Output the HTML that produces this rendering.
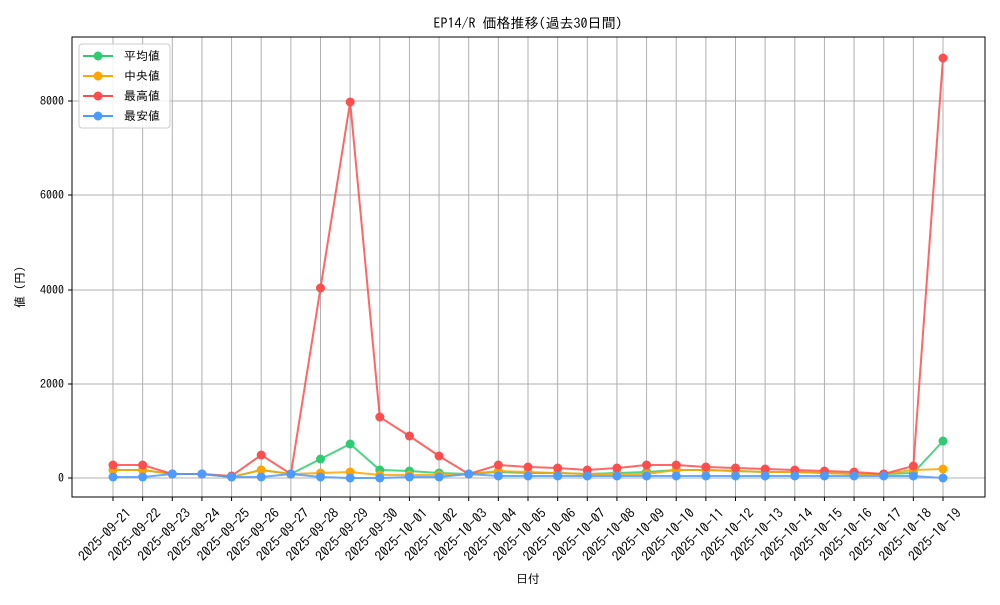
<!DOCTYPE html>
<html><head><meta charset="utf-8"><style>
body{margin:0;background:#fff}
svg text{font-family:"IPAGothic","Noto Sans CJK JP",sans-serif;font-size:12px;fill:#000}
</style></head><body>
<svg id="s" width="1000" height="600" xmlns="http://www.w3.org/2000/svg">
<rect width="1000" height="600" fill="#fff"/>
<g id="grid"></g>
<g id="series"></g>
<rect x="72" y="37" width="913" height="460" fill="none" stroke="#000" stroke-width="1"/>
<g id="ticks"></g>
<text x="528" y="28" text-anchor="middle" style="font-size:14px">EP14/R 価格推移(過去30日間)</text>
<text x="528" y="583" text-anchor="middle">日付</text>
<text transform="translate(24,287) rotate(-90)" text-anchor="middle">値 (円)</text>
<g>
<rect x="79" y="44" width="91" height="84" rx="3" fill="#fff" fill-opacity="0.85" stroke="#ccc"/>
<line x1="83" y1="56" x2="113" y2="56" stroke="#2ecc71" stroke-width="2"/><circle cx="98" cy="56" r="4.5" fill="#2ecc71"/><text x="124" y="60">平均値</text>
<line x1="83" y1="76" x2="113" y2="76" stroke="#ffa500" stroke-width="2"/><circle cx="98" cy="76" r="4.5" fill="#ffa500"/><text x="124" y="80">中央値</text>
<line x1="83" y1="96" x2="113" y2="96" stroke="#ff4c4c" stroke-width="2"/><circle cx="98" cy="96" r="4.5" fill="#ff4c4c"/><text x="124" y="100">最高値</text>
<line x1="83" y1="116" x2="113" y2="116" stroke="#4c9bff" stroke-width="2"/><circle cx="98" cy="116" r="4.5" fill="#4c9bff"/><text x="124" y="120">最安値</text>
</g>
</svg>
<script>
const NS="http://www.w3.org/2000/svg";
function el(p,t,a,txt){const e=document.createElementNS(NS,t);for(const k in a)e.setAttribute(k,a[k]);if(txt!=null)e.textContent=txt;document.getElementById(p).appendChild(e);return e;}
const X=i=>113+i*(830/28);
const dates=[];
for(let d=21;d<=30;d++)dates.push("2025-09-"+d);
for(let d=1;d<=19;d++)dates.push("2025-10-"+String(d).padStart(2,"0"));
dates.forEach((d,i)=>{const x=X(i);
 el("grid","line",{x1:x,y1:37,x2:x,y2:497,stroke:"#b0b0b0","stroke-width":1});
 el("ticks","line",{x1:x,y1:497,x2:x,y2:501,stroke:"#000"});
 el("ticks","text",{x:0,y:0,"text-anchor":"end",style:"font-size:13.5px",transform:`translate(${x+19},${514}) rotate(-45)`},d);
});
[[0,478],[2000,384],[4000,290],[6000,195],[8000,101]].forEach(([v,y])=>{
 el("grid","line",{x1:72,y1:y,x2:985,y2:y,stroke:"#b0b0b0","stroke-width":1});
 el("ticks","line",{x1:68,y1:y,x2:72,y2:y,stroke:"#000"});
 el("ticks","text",{x:64,y:y+4,"text-anchor":"end"},String(v));
});
const S=[
["#2ecc71",[470,470,474,474,477,470,474,459,444,470,471,473,474,472,473,473,474,473,472,470,470,471,472,472,473,474,474,473,441]],
["#ffa500",[470,470,474,474,477,470,474,473,472,475,475,475,474,471,472,473,474,474,474,470,470,471,472,472,473,474,474,470,469]],
["#ff4c4c",[465,465,474,474,476,455,474,288,102,417,436,456,474,465,467,468,470,468,465,465,467,468,469,470,471,472,474,466,58]],
["#4c9bff",[477,477,474,474,477,477,474,477,478,478,477,477,474,476,476,476,476,476,476,476,476,476,476,476,476,476,476,476,478]]];
S.forEach(([c,ys])=>{
 el("series","polyline",{points:ys.map((y,i)=>X(i)+","+y).join(" "),fill:"none",stroke:c,"stroke-width":2,"stroke-opacity":0.85});
 ys.forEach((y,i)=>el("series","circle",{cx:X(i),cy:y,r:4.5,fill:c}));
});
</script>
</body></html>
